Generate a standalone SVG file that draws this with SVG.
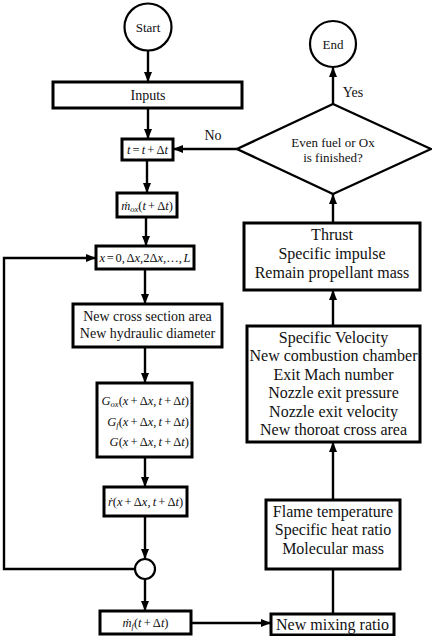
<svg xmlns="http://www.w3.org/2000/svg" width="432" height="636" viewBox="0 0 432 636" font-family="'Liberation Serif', 'DejaVu Serif', serif">
<defs>
<marker id="ah" markerUnits="userSpaceOnUse" markerWidth="10" markerHeight="10" viewBox="0 0 10 10" refX="10" refY="5" orient="auto">
<path d="M0,1 L10,5 L0,9 Z" fill="#000"/>
</marker>
<style>
.box{fill:#fff;stroke:#000;stroke-width:3}
.circ{fill:#fff;stroke:#000;stroke-width:2.2}
.con{fill:none;stroke:#000;stroke-width:2.4}
.arr{marker-end:url(#ah)}
text{font-family:'Liberation Serif','DejaVu Serif',serif;fill:#111;text-anchor:middle}
.t13{font-size:13px}
.t14{font-size:14px}
.t16{font-size:16px}
.m{font-size:12.5px;font-style:italic;word-spacing:-1px}
.up{font-style:normal}
.sub{font-size:8.5px}
.end{text-anchor:end}
</style>
</defs>
<rect width="432" height="636" fill="#fff"/>

<g id="connectors">
<line class="con arr" x1="148" y1="51" x2="148" y2="82"/>
<line class="con arr" x1="148" y1="108" x2="148" y2="139"/>
<line class="con arr" x1="147" y1="160" x2="147" y2="193"/>
<line class="con arr" x1="146" y1="217" x2="146" y2="246"/>
<line class="con arr" x1="145" y1="269" x2="145" y2="304"/>
<line class="con arr" x1="145" y1="347" x2="145" y2="383"/>
<line class="con arr" x1="145" y1="457" x2="145" y2="487"/>
<line class="con arr" x1="145" y1="516" x2="145" y2="559"/>
<polyline class="con arr" points="135,569 4,569 4,258 96,258"/>
<line class="con arr" x1="145" y1="579" x2="145" y2="611"/>
<line class="con arr" x1="191" y1="623" x2="271" y2="623"/>
<line class="con arr" x1="333" y1="614" x2="333" y2="500"/>
<line class="con arr" x1="333" y1="500" x2="333" y2="442"/>
<line class="con arr" x1="333" y1="326" x2="333" y2="290"/>
<line class="con arr" x1="333" y1="223" x2="333" y2="194"/>
<line class="con arr" x1="333" y1="104" x2="333" y2="67"/>
<line class="con arr" x1="237" y1="149" x2="173" y2="149"/>
<text class="t14" x="213" y="140">No</text>
<text class="t14" x="353" y="97">Yes</text>
</g>

<g id="start">
<circle class="circ" cx="148" cy="27" r="23.5"/>
<text class="t13" x="148" y="32">Start</text>
</g>

<g id="inputs">
<rect class="box" x="53" y="82" width="189" height="26"/>
<text class="t14" x="148" y="100">Inputs</text>
</g>

<g id="time-step">
<rect class="box" x="122" y="139" width="51" height="21"/>
<text class="m" x="147.5" y="154">t<tspan class="up"> = </tspan>t<tspan class="up"> + Δ</tspan>t</text>
</g>

<g id="mox">
<rect class="box" x="117" y="193" width="60" height="24"/>
<text class="m" x="147" y="210">ṁ<tspan class="sub" dy="2">ox</tspan><tspan class="up" dy="-2">(</tspan>t<tspan class="up"> + Δ</tspan>t<tspan class="up">)</tspan></text>
</g>

<g id="x-loop">
<rect class="box" x="96" y="246" width="98" height="23"/>
<text class="m" x="145" y="262" style="word-spacing:-1.5px">x<tspan class="up"> = 0, Δ</tspan>x<tspan class="up">,2Δ</tspan>x<tspan class="up">,…, </tspan>L</text>
</g>

<g id="cross-section">
<rect class="box" x="73" y="304" width="149" height="43"/>
<text class="t14" x="147.5" y="321">New cross section area</text>
<text class="t14" x="147.5" y="338">New hydraulic diameter</text>
</g>

<g id="mass-flux">
<rect class="box" x="97" y="383" width="95" height="74"/>
<text class="m end" x="189" y="405">G<tspan class="sub" dy="2">ox</tspan><tspan class="up" dy="-2">(</tspan>x<tspan class="up"> + Δ</tspan>x<tspan class="up">, </tspan>t<tspan class="up"> + Δ</tspan>t<tspan class="up">)</tspan></text>
<text class="m end" x="189" y="426">G<tspan class="sub" dy="2">f</tspan><tspan class="up" dy="-2">(</tspan>x<tspan class="up"> + Δ</tspan>x<tspan class="up">, </tspan>t<tspan class="up"> + Δ</tspan>t<tspan class="up">)</tspan></text>
<text class="m end" x="189" y="446">G<tspan class="up">(</tspan>x<tspan class="up"> + Δ</tspan>x<tspan class="up">, </tspan>t<tspan class="up"> + Δ</tspan>t<tspan class="up">)</tspan></text>
</g>

<g id="regression-rate">
<rect class="box" x="104" y="487" width="83" height="29"/>
<text class="m" x="145.5" y="506">ṙ<tspan class="up">(</tspan>x<tspan class="up"> + Δ</tspan>x<tspan class="up">, </tspan>t<tspan class="up"> + Δ</tspan>t<tspan class="up">)</tspan></text>
</g>

<g id="junction">
<circle class="circ" cx="145" cy="569" r="10"/>
</g>

<g id="mf">
<rect class="box" x="100" y="611" width="91" height="23"/>
<text class="m" x="145.5" y="627">ṁ<tspan class="sub" dy="2">f</tspan><tspan class="up" dy="-2">(</tspan>t<tspan class="up"> + Δ</tspan>t<tspan class="up">)</tspan></text>
</g>

<g id="mixing-ratio">
<rect class="box" x="271" y="614" width="123" height="21"/>
<text class="t16" x="332.5" y="630">New mixing ratio</text>
</g>

<g id="flame">
<rect class="box" x="266" y="500" width="134" height="69"/>
<text class="t16" x="333" y="517">Flame temperature</text>
<text class="t16" x="333" y="535">Specific heat ratio</text>
<text class="t16" x="333" y="554">Molecular mass</text>
</g>

<g id="nozzle">
<rect class="box" x="247" y="326" width="173" height="116"/>
<text class="t16" x="333.5" y="343">Specific Velocity</text>
<text class="t16" x="333.5" y="361">New combustion chamber</text>
<text class="t16" x="333.5" y="380">Exit Mach number</text>
<text class="t16" x="333.5" y="398">Nozzle exit pressure</text>
<text class="t16" x="333.5" y="417">Nozzle exit velocity</text>
<text class="t16" x="333.5" y="435">New thoroat cross area</text>
</g>

<g id="thrust">
<rect class="box" x="244" y="223" width="176" height="67"/>
<text class="t16" x="332" y="240">Thrust</text>
<text class="t16" x="332" y="259">Specific impulse</text>
<text class="t16" x="332" y="278">Remain propellant mass</text>
</g>

<g id="decision">
<polygon points="333,104 431,149 333,194 237,149" fill="#fff" stroke="#000" stroke-width="2.4"/>
<text class="t13" x="333" y="147">Even fuel or Ox</text>
<text class="t13" x="333" y="162">is finished?</text>
</g>

<g id="end">
<circle class="circ" cx="333" cy="44" r="23"/>
<text class="t13" x="333" y="49">End</text>
</g>
</svg>
